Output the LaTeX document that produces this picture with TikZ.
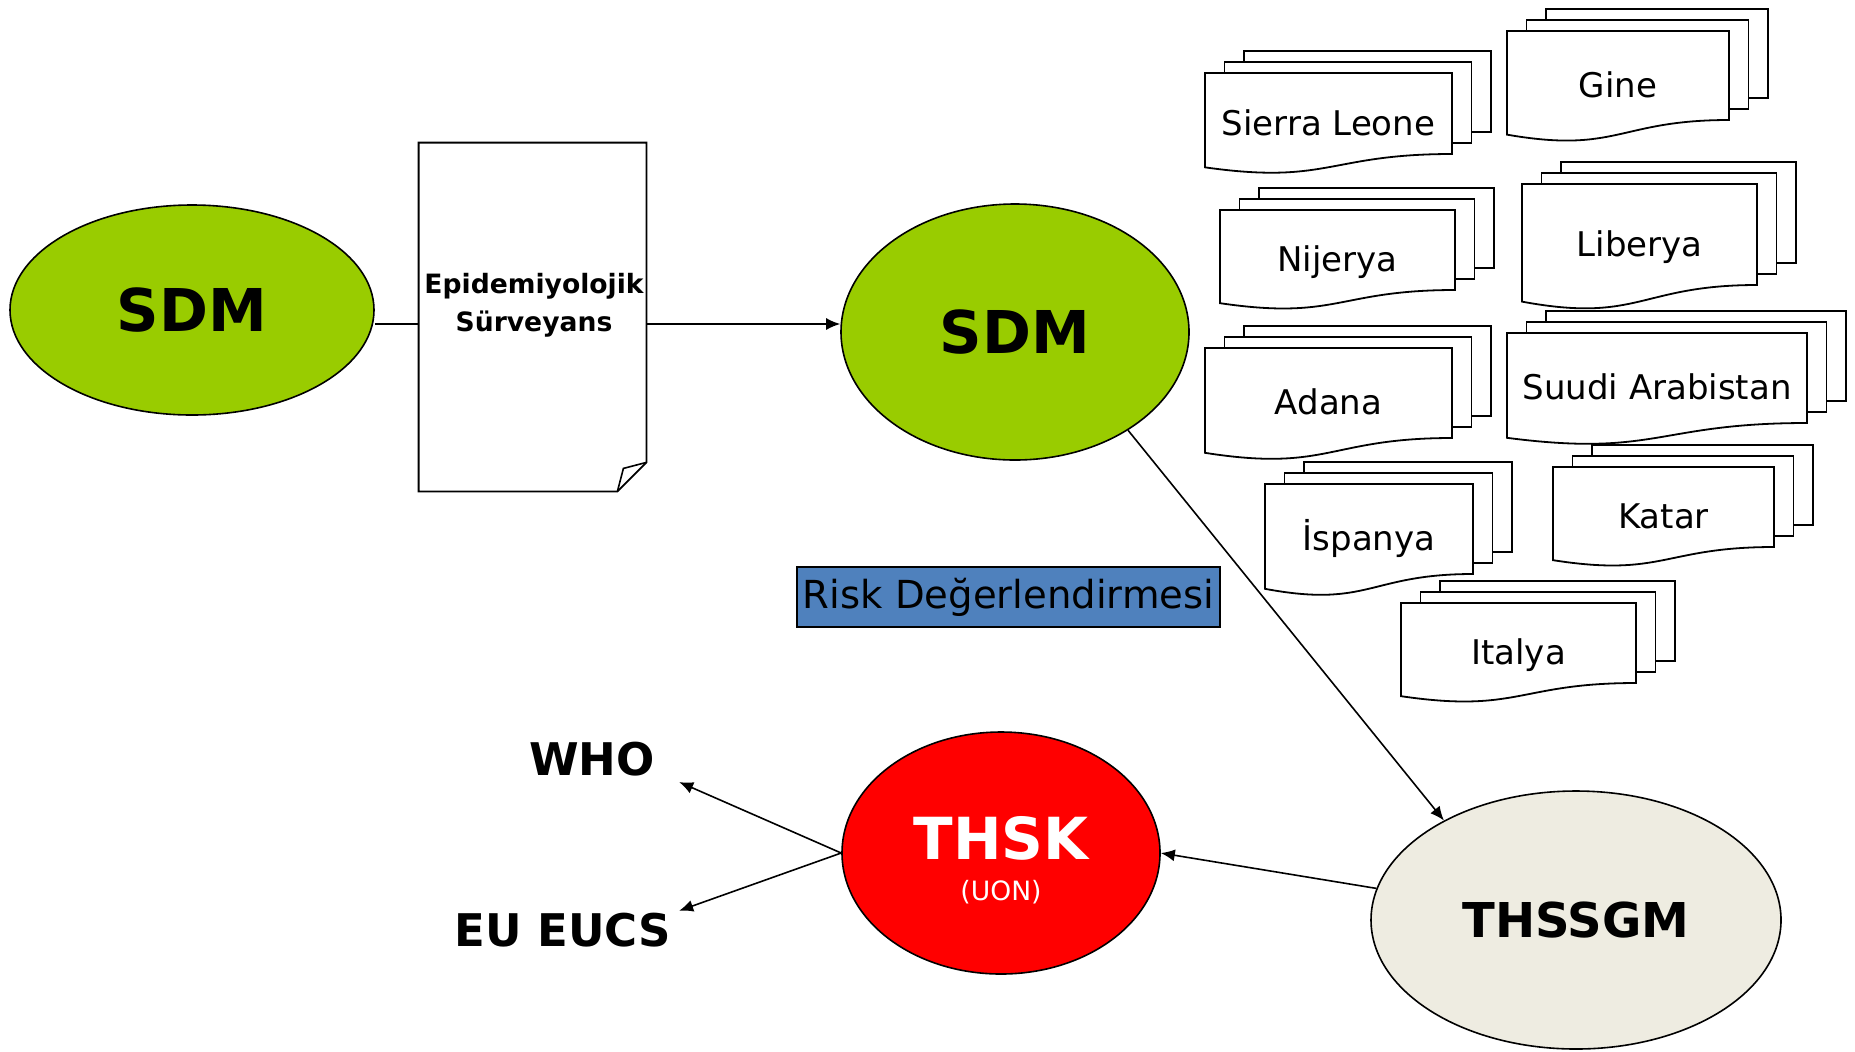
\documentclass[tikz,border=0pt]{standalone}
\usepackage{fontspec}
\setmainfont{DejaVu Sans}
\usetikzlibrary{arrows.meta,shapes.geometric,calc}
\definecolor{sdmgreen}{HTML}{99CC00}
\definecolor{riskblue}{HTML}{4F81BD}
\definecolor{thssgmfill}{HTML}{EEECE1}
\definecolor{thskred}{HTML}{FF0000}

% A stack of three report sheets; the front one has a wavy lower edge.
% #1 name, #2 left, #3 top, #4 right, #5 lower edge at the right side, #6 label
\newcommand\stackdoc[6]{%
  \pgfmathsetmacro\sdH{(#5-#3)/0.802}%
  \pgfmathsetmacro\sdYL{#3+0.934*\sdH}%
  \pgfmathsetmacro\sdYC{#3+1.1075*\sdH}%
  \pgfmathsetmacro\sdXM{(#2+#4)/2}%
  \pgfmathsetmacro\sdYT{(#3+#5)/2+16}%
  \draw[docline] (#2+39,#3-22) rectangle (#4+39,#5-22);
  \draw[docline] (#2+19.5,#3-11) rectangle (#4+19.5,#5-11);
  \draw[docline] (#2,#3) -- (#4,#3) -- (#4,#5)
     .. controls (\sdXM,#5) and (\sdXM,\sdYC) .. (#2,\sdYL) -- cycle;
  \node[country] (#1) at (\sdXM,\sdYT) {#6};
}

\begin{document}
\begin{tikzpicture}[x=0.5pt,y=-0.5pt,
  docline/.style={draw=black, fill=white, line width=0.9pt},
  oval/.style={ellipse, draw=black, line width=0.8pt, inner sep=0pt},
  arr/.style={line width=0.8pt, -{Latex[length=7pt,width=6pt]}},
  conn/.style={line width=0.8pt},
  country/.style={font=\fontsize{17}{20}\selectfont, text height=0.75em, text depth=0.2em, inner sep=0pt},
  bigbold/.style={font=\fontsize{29.5}{36}\selectfont\bfseries},
  lblbold/.style={font=\fontsize{22.5}{27}\selectfont\bfseries},
]
\useasboundingbox[fill=white] (0,0) rectangle (1855,1051);

% main flow
\node[oval, fill=sdmgreen, minimum width=182pt, minimum height=105pt, bigbold] (sdm1) at (192,310) {SDM};
\node[oval, fill=sdmgreen, minimum width=174pt, minimum height=128pt, bigbold] (sdm2) at (1015,332) {SDM};

% surveillance report sheet with a folded corner
\node[minimum width=113.5pt, minimum height=174pt, inner sep=0pt] (epi) at (532.5,317) {};
\draw[docline] (epi.north west) -- (epi.north east) -- ([yshift=14.5pt]epi.south east)
  -- ([xshift=-14.5pt]epi.south east) -- (epi.south west) -- cycle;
\draw[line width=0.8pt] ([xshift=-14.5pt]epi.south east) -- ([xshift=-11.5pt,yshift=11.5pt]epi.south east)
  -- ([yshift=14.5pt]epi.south east);
\node[align=center, font=\fontsize{13.3}{19}\selectfont\bfseries, inner sep=0pt] (epitext) at (534,305)
  {Epidemiyolojik\\ Sürveyans};

\coordinate (lvl) at (0,324);
\draw[conn] (sdm1.east |- lvl) -- (epi.west |- lvl);
\draw[arr] (epi.east |- lvl) -- (sdm2.west |- lvl);

% risk assessment label
\node[draw=black, fill=riskblue, line width=0.6pt, minimum width=211.5pt, minimum height=30pt, inner sep=0pt,
  font=\fontsize{19.3}{23}\selectfont] (risk) at (1008.5,597) {Risk Değerlendirmesi};

% countries
\stackdoc{sierra}{1205}{73}{1452}{154}{Sierra Leone}
\stackdoc{gine}{1507}{31}{1729}{120}{Gine}
\stackdoc{nijerya}{1220}{210}{1455}{290}{Nijerya}
\stackdoc{liberya}{1522}{184}{1757}{285}{Liberya}
\stackdoc{suudi}{1507}{333}{1807}{423}{Suudi Arabistan}
\stackdoc{adana}{1205}{348}{1452}{438}{Adana}
\stackdoc{katar}{1553}{467}{1774}{547}{Katar}
\stackdoc{ispanya}{1265}{484}{1473}{574}{İspanya}
\stackdoc{italya}{1401}{603}{1636}{683}{Italya}

% lower part
\node[oval, fill=thssgmfill, minimum width=205pt, minimum height=129pt,
  font=\fontsize{24}{29}\selectfont\bfseries] (thssgm) at (1576,920) {THSSGM};
\node[oval, fill=thskred, minimum width=159pt, minimum height=121pt] (thsk) at (1001,853) {};
\node[text=white, font=\fontsize{29}{35}\selectfont\bfseries, inner sep=0pt] (thsklbl) at (1001,838) {THSK};
\node[text=white, font=\fontsize{13.3}{16}\selectfont, inner sep=0pt] (uon) at (1001,892) {(UON)};

\node[lblbold, anchor=base, inner xsep=12pt, inner ysep=3pt] (who) at (592,775) {WHO};
\node[lblbold, anchor=base, inner xsep=3.75pt, inner ysep=0.75pt] (eu) at (563,946) {EU EUCS};

\draw[arr] (sdm2.-41) -- (thssgm.143);
\draw[arr] (thssgm.171) -- (thsk.east);
\draw[arr] (thsk.west) -- (who.south east);
\draw[arr] (thsk.west) -- (eu.north east);
\end{tikzpicture}
\end{document}
